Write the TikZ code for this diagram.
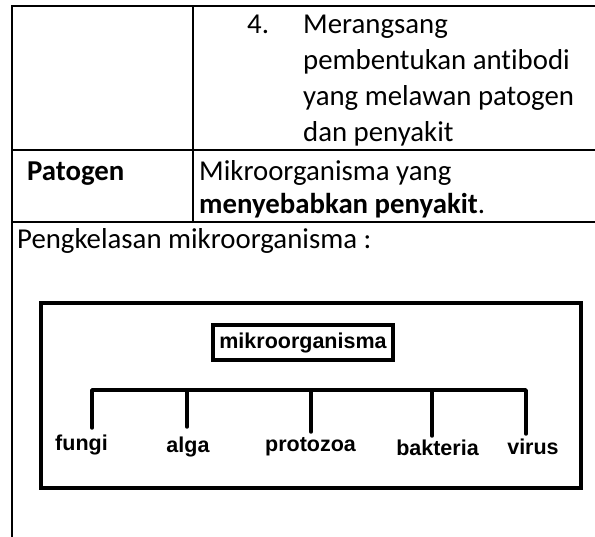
\documentclass[tikz,border=0pt]{standalone}
\usepackage{fontspec}
\setmainfont{Carlito}[Ligatures=NoCommon]
\newfontfamily\arialfont{Liberation Sans}
\usepackage{tikz}
\usetikzlibrary{positioning}
\tikzset{
    rowtext/.style={
        anchor=base west,
        inner sep=0pt,
        font=\fontsize{28.8}{34}\selectfont
    },
    headtext/.style={
        rowtext,
        font=\fontsize{28.8}{34}\selectfont\bfseries
    },
    tableline/.style={
        draw=black,
        line width=2.5pt
    },
    frame/.style={
        draw=black,
        line width=4pt
    },
    rootbox/.style={
        rectangle,
        draw=black,
        line width=4pt,
        minimum width=180pt,
        minimum height=35pt,
        inner sep=0pt,
        font=\arialfont\bfseries\fontsize{21.5}{24}\selectfont
    },
    leaf/.style={
        anchor=base,
        inner sep=0pt,
        font=\arialfont\bfseries\fontsize{21.5}{24}\selectfont
    },
    branch/.style={
        draw=black,
        line width=3.5pt,
        line cap=round,
        line join=round
    }
}

\begin{document}
\begin{tikzpicture}[x=1pt, y=-1pt]
\useasboundingbox (0,0) rectangle (595,537);
% Table
\draw[tableline] (595,6) -- (12,6) -- (12,537);
\draw[tableline] (193,6) -- (193,222);
\draw[tableline] (12,150) -- (595,150);
\draw[tableline] (12,222) -- (595,222);

\node[rowtext] (num) at (247,33.5) {4.};
\node[rowtext] (l1) at (303,33.5) {Merangsang};
\node[rowtext] (l2) at (303,69.5) {pembentukan antibodi};
\node[rowtext] (l3) at (303,105.5) {yang melawan patogen};
\node[rowtext] (l4) at (303,141.5) {dan penyakit};

\node[headtext] (patogen) at (27,180.5) {Patogen};
\node[rowtext] (def1) at (199,180.5) {Mikroorganisma yang};
\node[rowtext] (def2) at (199,214) {\textbf{menyebabkan penyakit}.};

\node[rowtext] (title) at (17,248.5) {Pengkelasan mikroorganisma :};

% Classification
\draw[frame] (41,303.5) rectangle (581,488);
\node[rootbox] (root) at (303,342.5) {mikroorganisma};

\node[leaf] (fungi) at (81.5,451) {fungi};
\node[leaf] (alga) at (188,453) {alga};
\node[leaf] (protozoa) at (310.5,452) {protozoa};
\node[leaf] (bakteria) at (437.5,456) {bakteria};
\node[leaf] (virus) at (533,455) {virus};

\foreach \name/\x/\yend in {fungi/92/428, alga/187/427, protozoa/311/432, bakteria/432/436, virus/526/434} {
    \coordinate (\name-j) at (\x,390);
    \coordinate (\name-e) at (\x,\yend);
}
\draw[branch] (fungi-e) -- (fungi-j) -- (virus-j) -- (virus-e);
\foreach \name in {alga, protozoa, bakteria}
    \draw[branch] (\name-j) -- (\name-e);
\end{tikzpicture}
\end{document}
